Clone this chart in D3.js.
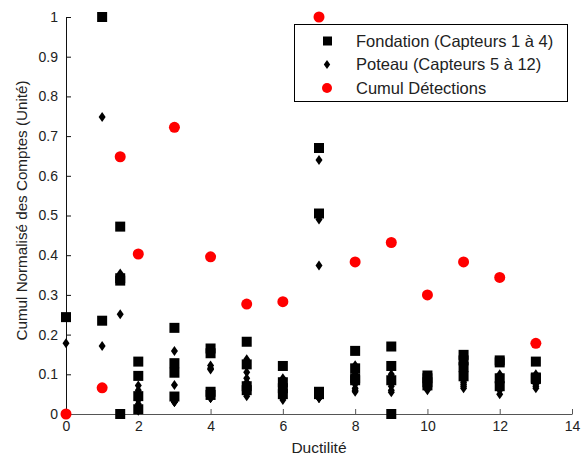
<!DOCTYPE html>
<html>
<head>
<meta charset="utf-8">
<script src="https://cdn.jsdelivr.net/npm/d3@7"></script>
<style>
  body { margin: 0; background: #fff; }
  svg text { font-family: "Liberation Sans", Arial, sans-serif; fill: #222; }
</style>
</head>
<body>
<div id="chart"></div>
<script>
// ductility steps
var ductilite = [0, 1, 1.5, 2, 3, 4, 5, 6, 7, 8, 9, 10, 11, 12, 13];

// Fondation (capteurs 1 a 4), one list per ductility step
var fondation = [
  [0.244],
  [1.0, 0.235],
  [0.472, 0.342, 0.336, 0],
  [0.132, 0.096, 0.045, 0.012],
  [0.217, 0.128, 0.104, 0.044],
  [0.165, 0.153, 0.056, 0.048],
  [0.182, 0.125, 0.07, 0.06],
  [0.121, 0.08, 0.065, 0.05],
  [0.67, 0.505, 0.056, 0.05],
  [0.159, 0.115, 0.09, 0.085],
  [0.17, 0.121, 0.0, 0.085],
  [0.097, 0.09, 0.08, 0.072],
  [0.149, 0.135, 0.118, 0.095],
  [0.135, 0.13, 0.09, 0.07],
  [0.132, 0.092, 0.09, 0.088]
];

// Poteau (capteurs 5 a 12)
var poteau = [
  [0.178],
  [0.748, 0.171],
  [0.354, 0.251],
  [0.072, 0.06, 0.05, 0.035, 0.025, 0.02, 0.01, 0.008],
  [0.159, 0.105, 0.073, 0.04, 0.035, 0.03, 0.03, 0.03],
  [0.122, 0.112, 0.045, 0.04, 0.04, 0.045, 0.115, 0.04],
  [0.138, 0.12, 0.105, 0.09, 0.08, 0.07, 0.055, 0.045],
  [0.09, 0.08, 0.07, 0.065, 0.055, 0.045, 0.04, 0.035],
  [0.64, 0.49, 0.374, 0.04, 0.045, 0.045, 0.04, 0.04],
  [0.123, 0.105, 0.1, 0.085, 0.075, 0.065, 0.06, 0.056],
  [0.12, 0.1, 0.09, 0.08, 0.07, 0.06, 0.055, 0.095],
  [0.08, 0.075, 0.07, 0.065, 0.06, 0.065, 0.07, 0.075],
  [0.11, 0.1, 0.09, 0.085, 0.08, 0.075, 0.07, 0.065],
  [0.1, 0.095, 0.085, 0.08, 0.07, 0.065, 0.06, 0.05],
  [0.1, 0.095, 0.09, 0.085, 0.08, 0.075, 0.07, 0.065]
];

// Cumul detections
var cumul = [0, 0.066, 0.648, 0.403, 0.722, 0.396, 0.277, 0.283, 1.0, 0.383, 0.432, 0.30, 0.383, 0.344, 0.178];

var xTicks = [0, 2, 4, 6, 8, 10, 12, 14];
var yTicks = [0, 0.1, 0.2, 0.3, 0.4, 0.5, 0.6, 0.7, 0.8, 0.9, 1];
var legendLabels = ["Fondation (Capteurs 1 à 4)", "Poteau (Capteurs 5 à 12)", "Cumul Détections"];

var W = 587, H = 466;
var margin = {t: 17, r: 15, b: 52, l: 66};
var width = W - margin.l - margin.r,
    height = H - margin.t - margin.b;

var svg = d3.select('#chart').append('svg')
    .attr('width', W)
    .attr('height', H);

var g = svg.append('g').attr('transform', 'translate(' + margin.l + ',' + margin.t + ')');

var x = d3.scaleLinear().domain([0, 14]).range([0, width]);
var y = d3.scaleLinear().domain([0, 1]).range([height, 0]);

// axes (ticks inside, matlab style)
var axisX = d3.axisBottom(x).tickValues(xTicks).tickSizeInner(-5).tickSizeOuter(0).tickPadding(7)
    .tickFormat(d3.format('d'));
var axisY = d3.axisLeft(y).tickValues(yTicks).tickSizeInner(-5).tickSizeOuter(0).tickPadding(8)
    .tickFormat(function(d){ return d === 0 || d === 1 ? String(d) : d3.format('.1f')(d); });

var gx = g.append('g').attr('class', 'axis axis-x').attr('transform', 'translate(0,' + height + ')').call(axisX);
var gy = g.append('g').attr('class', 'axis axis-y').call(axisY);

gx.selectAll('path, line').attr('stroke', '#555');
gy.selectAll('path, line').attr('stroke', '#111');
svg.selectAll('.axis text').attr('font-size', 14).attr('fill', '#222')
    .style('font-family', '"Liberation Sans", Arial, sans-serif');
gx.selectAll('text').attr('dy', '0.71em');

// flatten the groups into points
var fondPts = [], potPts = [];
ductilite.forEach(function(d, i){
  fondation[i].forEach(function(v){ fondPts.push({x: d, y: v}); });
  poteau[i].forEach(function(v){ potPts.push({x: d, y: v}); });
});
var cumulPts = ductilite.map(function(d, i){ return {x: d, y: cumul[i]}; });

var diamond = 'M0,-5L3.5,0L0,5L-3.5,0Z';

g.append('g').selectAll('.pot')
    .data(potPts).enter()
    .append('path')
    .attr('class', 'pot')
    .attr('d', diamond)
    .attr('transform', function(d){ return 'translate(' + x(d.x) + ',' + y(d.y) + ')'; })
    .attr('fill', '#000');

g.append('g').selectAll('.fond')
    .data(fondPts).enter()
    .append('rect')
    .attr('class', 'fond')
    .attr('x', function(d){ return x(d.x) - 5; })
    .attr('y', function(d){ return y(d.y) - 5; })
    .attr('width', 10)
    .attr('height', 10)
    .attr('fill', '#000');

g.append('g').selectAll('.cumul')
    .data(cumulPts).enter()
    .append('circle')
    .attr('class', 'cumul')
    .attr('cx', function(d){ return x(d.x); })
    .attr('cy', function(d){ return y(d.y); })
    .attr('r', 5.5)
    .attr('fill', '#f00');

// axis titles
svg.append('text')
    .attr('x', margin.l + width / 2)
    .attr('y', 453)
    .attr('text-anchor', 'middle')
    .attr('font-size', 15.5)
    .text('Ductilité');

svg.append('text')
    .attr('transform', 'translate(27,' + (margin.t + height / 2 - 5) + ') rotate(-90)')
    .attr('text-anchor', 'middle')
    .attr('font-size', 15.2)
    .text('Cumul Normalisé des Comptes (Unité)');

// legend
var lg = svg.append('g').attr('transform', 'translate(294,24)');
lg.append('rect')
    .attr('x', 0.5).attr('y', 0.5)
    .attr('width', 273).attr('height', 77)
    .attr('fill', '#fff').attr('stroke', '#000');

var items = lg.selectAll('.item').data(legendLabels).enter()
    .append('g')
    .attr('class', 'item')
    .attr('transform', function(d, i){ return 'translate(0,' + (17 + i * 23.5) + ')'; });

items.append('text')
    .attr('x', 62)
    .attr('dy', '0.35em')
    .attr('font-size', 16.5)
    .text(function(d){ return d; });

items.filter(function(d, i){ return i === 0; }).append('rect')
    .attr('x', 29).attr('y', -4.5).attr('width', 9).attr('height', 9).attr('fill', '#000');
items.filter(function(d, i){ return i === 1; }).append('path')
    .attr('d', 'M0,-4.5L3.2,0L0,4.5L-3.2,0Z').attr('transform', 'translate(33,0)').attr('fill', '#000');
items.filter(function(d, i){ return i === 2; }).append('circle')
    .attr('cx', 33).attr('r', 5).attr('fill', '#f00');
</script>
</body>
</html>
